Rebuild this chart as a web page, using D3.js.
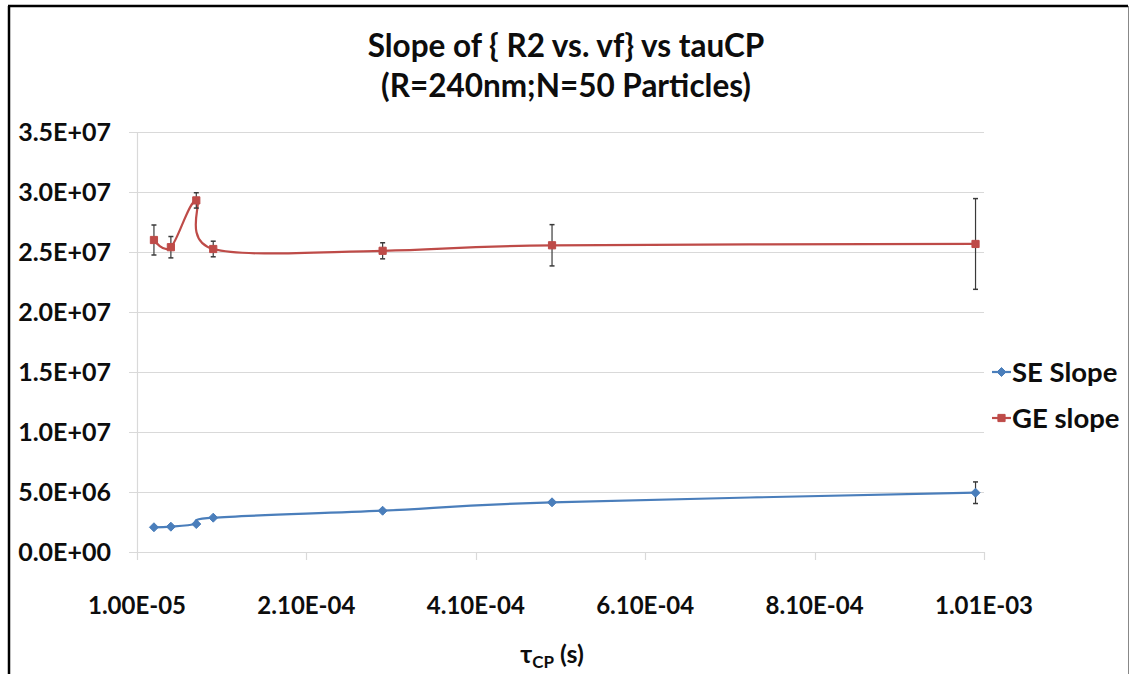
<!DOCTYPE html>
<html>
<head>
<meta charset="utf-8">
<script src="https://cdn.jsdelivr.net/npm/d3@7"></script>
<style>
  html, body { margin: 0; padding: 0; background: #fff; }
  svg { display: block; font-family: Lato, "Open Sans", sans-serif; font-weight: 700; }
</style>
</head>
<body>
<svg id="chart" width="1130" height="674"></svg>
<script>
// tau_CP values (s)
const tauCP = [3e-5, 5e-5, 8e-5, 1e-4, 3e-4, 5e-4, 1e-3];
// slope series
const seSlope = [2.06e6, 2.11e6, 2.33e6, 2.86e6, 3.44e6, 4.14e6, 4.94e6];
const seErr   = [0, 0, 0, 0, 0, 0, 0.9e6];
const geSlope = [2.60e7, 2.54e7, 2.93e7, 2.525e7, 2.51e7, 2.556e7, 2.567e7];
const geErr   = [1.25e6, 0.89e6, 0.64e6, 0.65e6, 0.67e6, 1.72e6, 3.78e6];
// axis ticks
const xTicks = [1.0e-5, 2.1e-4, 4.1e-4, 6.1e-4, 8.1e-4, 1.01e-3];
const xTickLabels = ["1.00E-05", "2.10E-04", "4.10E-04", "6.10E-04", "8.10E-04", "1.01E-03"];
const yTicks = [0, 5e6, 1e7, 1.5e7, 2e7, 2.5e7, 3e7, 3.5e7];
const yTickLabels = ["0.0E+00", "5.0E+06", "1.0E+07", "1.5E+07", "2.0E+07", "2.5E+07", "3.0E+07", "3.5E+07"];
const seriesNames = ["SE Slope", "GE slope"];
const titleLines = ["Slope of { R2 vs. vf} vs tauCP", "(R=240nm;N=50 Particles)"];

const svg = d3.select("#chart");
const W = 1130, H = 674;
const plot = { left: 137, right: 984, top: 132, bottom: 552 };

const x = d3.scaleLinear().domain([1.0e-5, 1.01e-3]).range([plot.left, plot.right]);
const y = d3.scaleLinear().domain([0, 3.5e7]).range([plot.bottom, plot.top]);

const blue = "#4A7EBB", red = "#BE4B48", grid = "#d9d9d9", errCol = "#3a3a3a", ink = "#0d0d0d";

// outer frame
svg.append("line").attr("x1", 9).attr("y1", 6).attr("x2", 9).attr("y2", H)
  .attr("stroke", "#000").attr("stroke-width", 2.5);
svg.append("line").attr("x1", 8).attr("y1", 6).attr("x2", 1128).attr("y2", 6)
  .attr("stroke", "#000").attr("stroke-width", 2.5);
svg.append("line").attr("x1", 1128.5).attr("y1", 6).attr("x2", 1128.5).attr("y2", H)
  .attr("stroke", "#888").attr("stroke-width", 1);

// title
const title = svg.append("text").attr("text-anchor", "middle").attr("font-size", 31.5).attr("fill", ink);
titleLines.forEach((t, i) => {
  title.append("tspan").attr("x", 566).attr("y", 57 + i * 40).text(t);
});

// horizontal gridlines
svg.append("g").selectAll("line").data(yTicks).join("line")
  .attr("x1", plot.left - 8).attr("x2", plot.right)
  .attr("y1", d => Math.round(y(d)) + 0.5).attr("y2", d => Math.round(y(d)) + 0.5)
  .attr("stroke", grid).attr("stroke-width", 1.2);

// y axis line
svg.append("line").attr("x1", plot.left + 0.5).attr("x2", plot.left + 0.5)
  .attr("y1", plot.top).attr("y2", plot.bottom + 8)
  .attr("stroke", grid).attr("stroke-width", 1.2);

// x axis ticks
svg.append("g").selectAll("line").data(xTicks.slice(1)).join("line")
  .attr("x1", d => Math.round(x(d)) + 0.5).attr("x2", d => Math.round(x(d)) + 0.5)
  .attr("y1", plot.bottom).attr("y2", plot.bottom + 8)
  .attr("stroke", grid).attr("stroke-width", 1.2);

// y tick labels
svg.append("g").selectAll("text").data(yTicks).join("text")
  .attr("x", 111).attr("y", d => y(d) + 9).attr("text-anchor", "end")
  .attr("font-size", 25).attr("fill", ink)
  .text((d, i) => yTickLabels[i]);

// x tick labels
svg.append("g").selectAll("text").data(xTicks).join("text")
  .attr("x", d => x(d)).attr("y", 614).attr("text-anchor", "middle")
  .attr("font-size", 24).attr("fill", ink)
  .text((d, i) => xTickLabels[i]);

// x axis title: tau with subscript CP
const xt = svg.append("text").attr("x", 552).attr("y", 663).attr("text-anchor", "middle")
  .attr("font-size", 25).attr("fill", ink);
xt.append("tspan").text("τ");
xt.append("tspan").attr("font-size", 17).attr("dy", 5).text("CP");
xt.append("tspan").attr("dy", -5).text(" (s)");

// series
const curve = d3.curveCardinal.tension(0);
const lineGen = d3.line().x(d => x(d[0])).y(d => y(d[1])).curve(curve);

function drawSeries(vals, errs, color, shape) {
  const pts = tauCP.map((t, i) => [t, vals[i], errs[i]]);
  const g = svg.append("g");
  g.append("path").datum(pts).attr("d", lineGen)
    .attr("fill", "none").attr("stroke", color).attr("stroke-width", 2.2);
  // error bars
  const eb = g.append("g").selectAll("g").data(pts.filter(p => p[2] > 0)).join("g");
  eb.append("line")
    .attr("x1", p => x(p[0])).attr("x2", p => x(p[0]))
    .attr("y1", p => y(p[1] + p[2])).attr("y2", p => y(p[1] - p[2]))
    .attr("stroke", errCol).attr("stroke-width", 1.2);
  [1, -1].forEach(s => {
    eb.append("line")
      .attr("x1", p => x(p[0]) - 2.5).attr("x2", p => x(p[0]) + 2.5)
      .attr("y1", p => y(p[1] + s * p[2])).attr("y2", p => y(p[1] + s * p[2]))
      .attr("stroke", errCol).attr("stroke-width", 1.5);
  });
  // markers
  g.append("g").selectAll("path").data(pts).join("path")
    .attr("transform", p => `translate(${x(p[0])},${y(p[1])})`)
    .attr("d", shape)
    .attr("fill", color).attr("stroke", color).attr("stroke-width", 1);
}

const diamond = "M0,-4.5L4.5,0L0,4.5L-4.5,0Z";
const square = "M-3.6,-3.6H3.6V3.6H-3.6Z";
drawSeries(seSlope, seErr, blue, diamond);
drawSeries(geSlope, geErr, red, square);

// legend
const legend = [[seriesNames[0], blue, diamond, 372], [seriesNames[1], red, square, 418]];
legend.forEach(([name, color, shape, cy]) => {
  svg.append("line").attr("x1", 992).attr("x2", 1011).attr("y1", cy).attr("y2", cy)
    .attr("stroke", color).attr("stroke-width", 2.2);
  svg.append("path").attr("transform", `translate(1001.5,${cy})`).attr("d", shape)
    .attr("fill", color).attr("stroke", color);
  svg.append("text").attr("x", 1012).attr("y", cy + 10).attr("font-size", 27.5)
    .attr("fill", ink).text(name);
});
</script>
</body>
</html>
